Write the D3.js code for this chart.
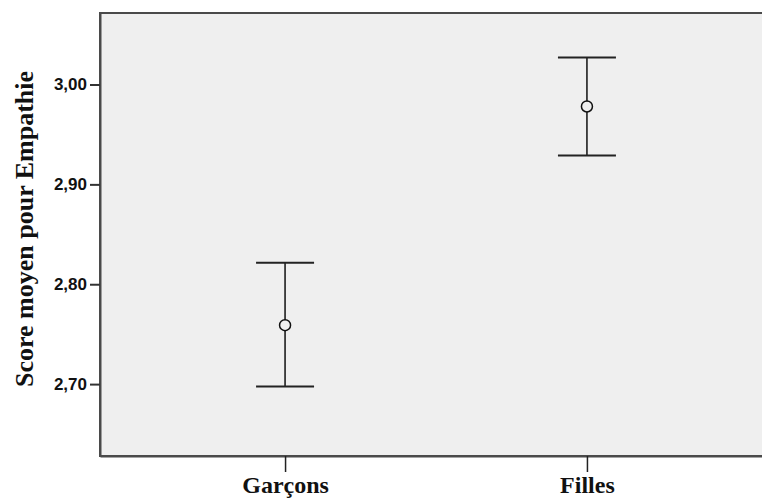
<!DOCTYPE html>
<html>
<head>
<meta charset="utf-8">
<script src="https://cdn.jsdelivr.net/npm/d3@7"></script>
<style>
  body { margin: 0; background: #fff; }
  svg { display: block; }
</style>
</head>
<body>
<div id="container"></div>
<script>
var width = 762, height = 499;

// donnees
var groupes = ["Garçons", "Filles"];
var moyennes = [2.759, 2.978];
var bornesInf = [2.6975, 2.929];
var bornesSup = [2.8215, 3.027];
var yTicks = [2.70, 2.80, 2.90, 3.00];

var margin = { left: 100, top: 13, right: 772, bottom: 456 };

var svg = d3.select("#container")
    .append("svg")
    .attr("width", width)
    .attr("height", height);

var x = d3.scalePoint()
    .domain(groupes)
    .range([margin.left, margin.right])
    .padding(0.613);

var y = d3.scaleLinear()
    .domain([2.628, 3.0716])
    .range([margin.bottom, margin.top]);

// fond gris de la zone de trace
svg.append("rect")
    .attr("x", margin.left)
    .attr("y", margin.top)
    .attr("width", margin.right - margin.left)
    .attr("height", margin.bottom - margin.top)
    .attr("fill", "#efefef")
    .attr("stroke", "#4a4a4a")
    .attr("stroke-width", 2);

// axe y
var yAxis = svg.append("g")
    .attr("transform", "translate(" + margin.left + ",0)")
    .call(d3.axisLeft(y)
        .tickValues(yTicks)
        .tickSizeInner(10)
        .tickSizeOuter(0)
        .tickPadding(3)
        .tickFormat(function(d) { return d3.format(".2f")(d).replace(".", ","); }));
yAxis.select(".domain").attr("stroke", "#4a4a4a").attr("stroke-width", 2);
yAxis.selectAll(".tick line").attr("stroke", "#333").attr("stroke-width", 2);
yAxis.selectAll(".tick text")
    .attr("fill", "#111")
    .style("font-family", "'Liberation Sans', Arial, sans-serif")
    .style("font-weight", "bold")
    .style("font-size", "17px");

// axe x
var xAxis = svg.append("g")
    .attr("transform", "translate(0," + margin.bottom + ")")
    .call(d3.axisBottom(x).tickSizeInner(16).tickSizeOuter(0).tickPadding(4));
xAxis.select(".domain").attr("stroke", "#4a4a4a").attr("stroke-width", 2);
xAxis.selectAll(".tick line").attr("stroke", "#222").attr("stroke-width", 1.5);
xAxis.selectAll(".tick text")
    .attr("fill", "#111")
    .style("font-family", "'Liberation Serif', 'Times New Roman', serif")
    .style("font-weight", "bold")
    .style("font-size", "24px");

// titre de l'axe y
svg.append("text")
    .attr("transform", "translate(33,229) rotate(-90)")
    .attr("text-anchor", "middle")
    .attr("fill", "#111")
    .style("font-family", "'Liberation Serif', 'Times New Roman', serif")
    .style("font-weight", "bold")
    .style("font-size", "26px")
    .text("Score moyen pour Empathie");

// barres d'erreur
var barres = svg.append("g").selectAll("g")
    .data(groupes)
    .enter()
    .append("g");

barres.append("line")
    .attr("x1", function(d) { return x(d); })
    .attr("x2", function(d) { return x(d); })
    .attr("y1", function(d, i) { return y(bornesSup[i]); })
    .attr("y2", function(d, i) { return y(bornesInf[i]); })
    .attr("stroke", "#111")
    .attr("stroke-width", 1.5);

[bornesSup, bornesInf].forEach(function(bornes) {
    barres.append("line")
        .attr("x1", function(d) { return x(d) - 29; })
        .attr("x2", function(d) { return x(d) + 29; })
        .attr("y1", function(d, i) { return y(bornes[i]); })
        .attr("y2", function(d, i) { return y(bornes[i]); })
        .attr("stroke", "#222")
        .attr("stroke-width", 2);
});

barres.append("circle")
    .attr("cx", function(d) { return x(d); })
    .attr("cy", function(d, i) { return y(moyennes[i]); })
    .attr("r", 5.5)
    .attr("fill", "#efefef")
    .attr("stroke", "#111")
    .attr("stroke-width", 1.5);
</script>
</body>
</html>
